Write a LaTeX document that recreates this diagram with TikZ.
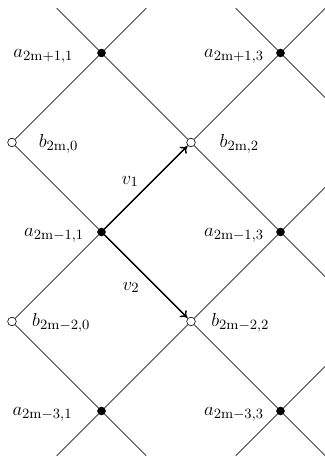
\documentclass[tikz,border=0pt]{standalone}
\usepackage{amsmath}
\usetikzlibrary{arrows.meta}
\tikzset{
  lat/site/.style={draw, circle, fill=black, inner sep=0pt, minimum size=5pt},
  lat/hole/.style={draw, circle, fill=white, inner sep=0pt, minimum size=5.5pt, line width=0.4pt},
  lat/line/.style={draw=black!75, line width=0.5pt},
  lat/vec/.style={draw, line width=0.9pt, -{To[length=4pt,width=6pt]}, shorten >=0.5pt},
  lat/lbl/.style={font=\fontsize{13}{15}\selectfont, inner sep=0pt, anchor=base}
}

\begin{document}
\begin{tikzpicture}[x=2cm, y=2cm]
  \useasboundingbox (-0.134,-0.514) rectangle (3.497,4.592);

  % lattice sites
  \node[lat/site] (a41) at (1,4) {};
  \node[lat/site] (a43) at (3,4) {};
  \node[lat/hole] (b30) at (0,3) {};
  \node[lat/hole] (b32) at (2,3) {};
  \node[lat/site] (a21) at (1,2) {};
  \node[lat/site] (a23) at (3,2) {};
  \node[lat/hole] (b10) at (0,1) {};
  \node[lat/hole] (b12) at (2,1) {};
  \node[lat/site] (a01) at (1,0) {};
  \node[lat/site] (a03) at (3,0) {};

  % free ends of the grid lines
  \coordinate (t1) at (0.5,4.5);
  \coordinate (t2) at (1.5,4.5);
  \coordinate (t3) at (2.5,4.5);
  \coordinate (t4) at (3.5,4.5);
  \coordinate (r1) at (3.5,3.5);
  \coordinate (r2) at (3.5,2.5);
  \coordinate (r3) at (3.5,1.5);
  \coordinate (r4) at (3.5,0.5);
  \coordinate (d1) at (0.5,-0.5);
  \coordinate (d2) at (1.5,-0.5);
  \coordinate (d3) at (2.5,-0.5);
  \coordinate (d4) at (3.5,-0.5);

  % grid
  \draw[lat/line] (t1) -- (a41) -- (b32) -- (a23) -- (r3);
  \draw[lat/line] (t2) -- (a41) -- (b30);
  \draw[lat/line] (t3) -- (a43) -- (r1);
  \draw[lat/line] (t4) -- (a43) -- (b32) -- (a21) -- (b10);
  \draw[lat/line] (b30) -- (a21) -- (b12) -- (a03) -- (d4);
  \draw[lat/line] (b10) -- (a01) -- (d2);
  \draw[lat/line] (r2) -- (a23) -- (b12) -- (a01) -- (d1);
  \draw[lat/line] (d3) -- (a03) -- (r4);

  % vectors
  \draw[lat/vec] (a21) -- (b32);
  \draw[lat/vec] (a21) -- (b12);

  % labels
  \node[lat/lbl] (la41) at (0.35,3.95) {$a_{\mathrm{2m+1,1}}$};
  \node[lat/lbl] (la43) at (2.48,3.95) {$a_{\mathrm{2m+1,3}}$};
  \node[lat/lbl] (lb30) at (0.52,2.944) {$b_{\mathrm{2m,0}}$};
  \node[lat/lbl] (lb32) at (2.54,2.944) {$b_{\mathrm{2m,2}}$};
  \node[lat/lbl] (la21) at (0.47,1.95) {$a_{\mathrm{2m-1,1}}$};
  \node[lat/lbl] (la23) at (2.48,1.95) {$a_{\mathrm{2m-1,3}}$};
  \node[lat/lbl] (lb10) at (0.55,0.944) {$b_{\mathrm{2m-2,0}}$};
  \node[lat/lbl] (lb12) at (2.55,0.944) {$b_{\mathrm{2m-2,2}}$};
  \node[lat/lbl] (la01) at (0.34,-0.05) {$a_{\mathrm{2m-3,1}}$};
  \node[lat/lbl] (la03) at (2.48,-0.05) {$a_{\mathrm{2m-3,3}}$};
  \node[lat/lbl] (lv1) at (1.32,2.536) {$v_1$};
  \node[lat/lbl] (lv2) at (1.33,1.35) {$v_2$};
\end{tikzpicture}
\end{document}
